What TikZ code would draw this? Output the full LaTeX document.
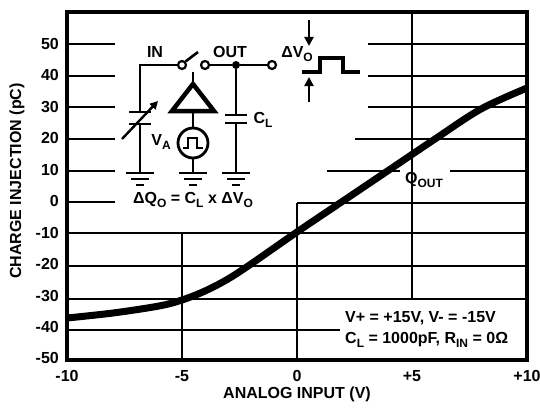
\documentclass[tikz,border=0pt]{standalone}
\usepackage{fontspec}
\setmainfont{Liberation Sans}
\usetikzlibrary{arrows.meta}
\newcommand{\dsub}[1]{\raisebox{-0.4ex}{\fontsize{12}{12}\selectfont #1}}
\tikzset{
  frame/.style={line width=3.4pt},
  gridline/.style={line width=2.8pt},
  curve/.style={line width=7pt},
  wire/.style={line width=2.6pt},
  lbl/.style={font=\fontsize{16}{18}\selectfont\bfseries, inner sep=0pt},
  term/.style={circle, draw, line width=2.2pt, fill=white, minimum size=8pt, inner sep=0pt},
  jdot/.style={circle, fill, minimum size=8pt, inner sep=0pt},
  gnd/.pic={\draw[wire] (-14,0)--(14,0); \draw[wire] (-9,6)--(9,6); \draw[wire] (-4,12)--(4,12);},
  marrow/.style={line width=2.6pt, -{Triangle[length=9pt,width=9pt]}}
}
\begin{document}
\begin{tikzpicture}[x=1pt,y=-1pt]
\useasboundingbox (0,0) rectangle (540,412);
% grid lines
\foreach \y in {44,76,107}{\draw[gridline] (67,\y)--(115,\y); \draw[gridline] (368,\y)--(527,\y);}
\draw[gridline] (67,139)--(115,139); \draw[gridline] (355,139)--(527,139);
\draw[gridline] (67,171)--(115,171); \draw[gridline] (327,171)--(400,171); \draw[gridline] (450,171)--(527,171);
\draw[gridline] (67,202)--(115,202); \draw[gridline] (297,203)--(527,203);
\foreach \y in {233,266,299}{\draw[gridline] (67,\y)--(527,\y);}
\draw[gridline] (67,330)--(340,330);
\draw[gridline] (182,233)--(182,360);
\draw[gridline] (297,203)--(297,360);
\draw[gridline] (412,12)--(412,299);
% frame
\draw[frame] (67,12) rectangle (527,360);
% curve
\draw[curve] plot[smooth, tension=0.55] coordinates {(67,318) (113,313) (159,306) (182,300) (205,291) (228,279) (251,264) (297,232) (343,201) (389,170) (435,139) (481,109) (527,88)};
% tick labels
\foreach \q/\y in {50/44,40/75,30/107,20/138,10/170,0/201,-10/233,-20/264,-30/296,-40/327,-50/358}
  \node[lbl, anchor=east] (t\q) at (59,\y) {\q};
\foreach \v/\x/\n in {-10/67/a,-5/182/b,0/297/c,+5/412/d,+10/527/e}
  \node[lbl] (x\n) at (\x,376) {\v};
\node[lbl] (xtitle) at (297,394) {ANALOG INPUT (V)};
\node[lbl, rotate=90] (ytitle) at (17,181) {CHARGE INJECTION (pC)};
% conditions
\node[lbl, anchor=west] (c1) at (345,318) {V+ = +15V, V- = -15V};
\node[lbl, anchor=west] (c2) at (345,340) {C\dsub{L} = 1000pF, R\dsub{IN} = 0Ω};
\node[lbl] (qout) at (424,180) {Q\dsub{OUT}};
% circuit
\coordinate (lc) at (140,65);
\node[term] (s1) at (182,65) {};
\node[term] (s2) at (205,65) {};
\node[jdot] (j) at (236,65) {};
\node[term] (s3) at (272,65) {};
\draw[wire] (s1) -- (lc) -- (140,112);
\draw[wire] (129,112) -- (151,112);
\draw[wire] (129,124) -- (151,124);
\draw[wire] (140,124) -- (140,173);
\draw[line width=2.4pt, -{Triangle[length=8pt,width=8pt]}] (122,139) -- (158,101);
\draw[wire] (s1.north east) -- (198,52);
\draw[wire] (s2) -- (j) -- (s3);
\draw[wire] (j) -- (236,115);
\draw[wire] (225,115) -- (247,115);
\draw[wire] (225,123) -- (247,123);
\draw[wire] (236,123) -- (236,173);
\draw[line width=4.5pt, line join=miter] (193,84) -- (214,111) -- (172,111) -- cycle;
\draw[wire] (193,84) -- (193,72);
\node[circle, draw, line width=2.8pt, minimum size=30pt, inner sep=0pt] (va) at (193,143) {};
\draw[wire] (193,111) -- (va.north);
\draw[wire] (va.south) -- (193,173);
\draw[line width=2.4pt] (183,148) -- (188,148) -- (188,138) -- (197,138) -- (197,148) -- (203,148);
\pic at (140,173) {gnd};
\pic at (193,173) {gnd};
\pic at (236,173) {gnd};
\node[lbl] (lin) at (155,52) {IN};
\node[lbl] (lout) at (230,52) {OUT};
\node[lbl] (lva) at (161,142) {V\dsub{A}};
\node[lbl] (lcl) at (263,120) {C\dsub{L}};
\node[lbl] (eq) at (193,200) {ΔQ\dsub{O} = C\dsub{L} x ΔV\dsub{O}};
% delta V pulse
\node[lbl] (dv) at (297,54) {ΔV\dsub{O}};
\coordinate (a1s) at (309,20); \coordinate (a1e) at (309,46);
\coordinate (a2s) at (309,102); \coordinate (a2e) at (309,77);
\draw[marrow] (a1s) -- (a1e);
\draw[marrow] (a2s) -- (a2e);
\draw[line width=4pt] (302,72) -- (320,72) -- (320,58) -- (343,58) -- (343,72) -- (360,72);
\end{tikzpicture}
\end{document}
